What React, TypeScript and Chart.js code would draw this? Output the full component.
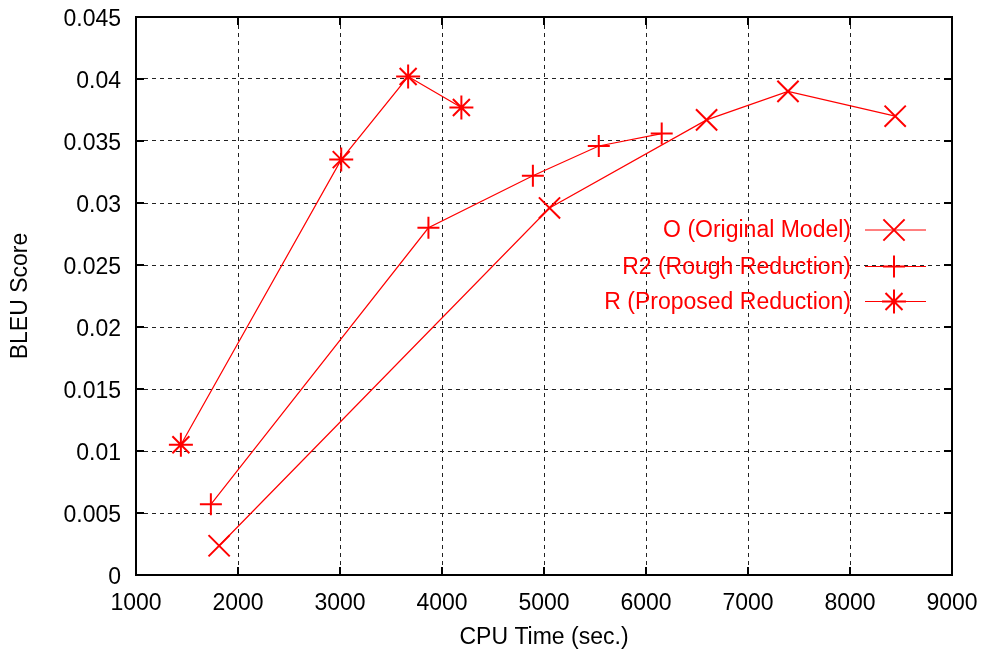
import React, { useEffect, useRef } from "react";
import { Chart, registerables } from "chart.js";

Chart.register(...registerables);

const seriesNames = ["O (Original Model)", "R2 (Rough Reduction)", "R (Proposed Reduction)"];
const oX = [1815, 5054, 6594, 7392, 8443];
const oY = [0.00236, 0.0296, 0.0367, 0.039, 0.037];
const r2X = [1734, 3867, 4891, 5537, 6154];
const r2Y = [0.0057, 0.028, 0.0322, 0.0346, 0.0356];
const rX = [1440, 3012, 3668, 4190];
const rY = [0.0105, 0.0335, 0.0402, 0.0377];
const xTicks = [1000, 2000, 3000, 4000, 5000, 6000, 7000, 8000, 9000];
const yTicks = [0, 0.005, 0.01, 0.015, 0.02, 0.025, 0.03, 0.035, 0.04, 0.045];

const RED = "#ff0000";
const FONT = "'Liberation Sans', Arial, sans-serif";

function drawMarker(ctx: CanvasRenderingContext2D, style: string, x: number, y: number, r: number) {
  ctx.beginPath();
  const d = r * Math.SQRT1_2;
  if (style === "cross" || style === "star") {
    ctx.moveTo(x - r, y); ctx.lineTo(x + r, y);
    ctx.moveTo(x, y - r); ctx.lineTo(x, y + r);
  }
  if (style === "crossRot" || style === "star") {
    ctx.moveTo(x - d, y - d); ctx.lineTo(x + d, y + d);
    ctx.moveTo(x - d, y + d); ctx.lineTo(x + d, y - d);
  }
  ctx.stroke();
}

const framePlugin = {
  id: "frame",
  afterDraw(chart: any) {
    const ctx = chart.ctx as CanvasRenderingContext2D;
    const { left, right, top, bottom } = chart.chartArea;
    ctx.save();
    ctx.strokeStyle = "#000";
    ctx.lineWidth = 2;
    ctx.strokeRect(left, top, right - left, bottom - top);
    const tl = 8;
    ctx.beginPath();
    const xs = chart.scales.x;
    const ys = chart.scales.y;
    xTicks.forEach((v) => {
      const px = xs.getPixelForValue(v);
      ctx.moveTo(px, bottom); ctx.lineTo(px, bottom - tl);
      ctx.moveTo(px, top); ctx.lineTo(px, top + tl);
    });
    yTicks.forEach((v) => {
      const py = ys.getPixelForValue(v);
      ctx.moveTo(left, py); ctx.lineTo(left + tl, py);
      ctx.moveTo(right, py); ctx.lineTo(right - tl, py);
    });
    ctx.stroke();

    // legend
    const styles = ["crossRot", "cross", "star"];
    const radii = [15, 11, 12];
    const ys0 = [230, 266.5, 301.5];
    ctx.font = `23px ${FONT}`;
    ctx.fillStyle = RED;
    ctx.textAlign = "right";
    ctx.textBaseline = "middle";
    ctx.strokeStyle = RED;
    seriesNames.forEach((name, i) => {
      const yy = ys0[i];
      ctx.fillText(name, 851, yy + 1);
      ctx.lineWidth = 1;
      ctx.beginPath();
      ctx.moveTo(865, yy); ctx.lineTo(926, yy);
      ctx.stroke();
      ctx.lineWidth = 2;
      drawMarker(ctx, styles[i], 894, yy, radii[i]);
    });
    ctx.restore();
  },
};

export default function App() {
  const ref = useRef<HTMLCanvasElement>(null);
  useEffect(() => {
    document.body.style.margin = "0";
    const toPts = (xs: number[], ys: number[]) => xs.map((x, i) => ({ x, y: ys[i] }));
    const common = {
      showLine: true,
      borderColor: RED,
      borderWidth: 1.2,
      pointBorderColor: RED,
      pointBackgroundColor: RED,
      pointBorderWidth: 2,
      pointHoverRadius: 0,
    };
    const chart = new Chart(ref.current!, {
      type: "scatter",
      data: {
        datasets: [
          { ...common, label: seriesNames[0], data: toPts(oX, oY), pointStyle: "crossRot", pointRadius: 15 },
          { ...common, label: seriesNames[1], data: toPts(r2X, r2Y), pointStyle: "cross", pointRadius: 11 },
          { ...common, label: seriesNames[2], data: toPts(rX, rY), pointStyle: "star", pointRadius: 12 },
        ],
      },
      options: {
        responsive: false,
        animation: false,
        layout: { padding: { left: 0, right: 36, top: 10, bottom: 0 } },
        plugins: { legend: { display: false }, tooltip: { enabled: false } },
        scales: {
          x: {
            type: "linear",
            min: 1000,
            max: 9000,
            afterFit: (s: any) => { s.height = 84; s.paddingLeft = 0; s.paddingRight = 0; },
            afterBuildTicks: (s: any) => { s.ticks = xTicks.map((v) => ({ value: v })); },
            ticks: { color: "#000", font: { family: FONT, size: 23 }, padding: 15, maxRotation: 0, callback: (v: any) => String(v) },
            grid: { color: "#222", lineWidth: 1, drawTicks: false },
            border: { display: false, dash: [4, 4] },
            title: { display: true, text: "CPU Time (sec.)", color: "#000", font: { family: FONT, size: 23 }, padding: { top: 0, bottom: 8 } },
          },
          y: {
            type: "linear",
            min: 0,
            max: 0.045,
            afterFit: (s: any) => { s.width = 136; s.paddingTop = 0; s.paddingBottom = 0; },
            afterBuildTicks: (s: any) => { s.ticks = yTicks.map((v) => ({ value: v })); },
            ticks: { color: "#000", font: { family: FONT, size: 23 }, padding: 15, labelOffset: 3, callback: (v: any) => String(Number(Number(v).toFixed(4))) },
            grid: { color: "#222", lineWidth: 1, drawTicks: false },
            border: { display: false, dash: [4, 4] },
            title: { display: true, text: "BLEU Score", color: "#000", font: { family: FONT, size: 23 }, padding: { top: 7, bottom: 0 } },
          },
        },
      },
      plugins: [framePlugin],
    } as any);
    return () => chart.destroy();
  }, []);
  return <canvas ref={ref} width={988} height={659} style={{ display: "block" }} />;
}
